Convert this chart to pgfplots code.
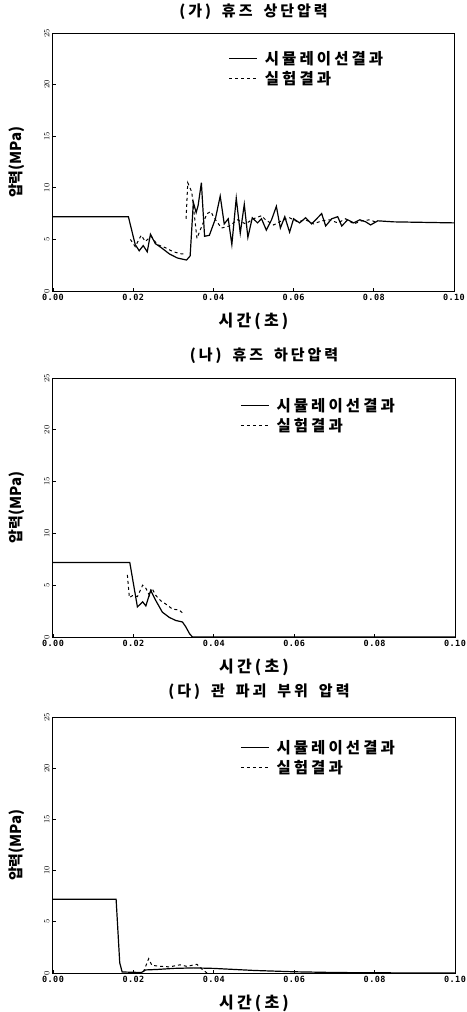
\documentclass[border=0pt]{standalone}
\usepackage{fontspec}
\usepackage{pgfplots}
\pgfplotsset{compat=1.18}
\newfontfamily\kr{Noto Sans CJK KR}[LetterSpace=20]
\newfontfamily\krn{Noto Sans CJK KR}
\newfontfamily\mono{DejaVu Sans Mono}[LetterSpace=5]
\pgfplotsset{panel/.style={
  scale only axis, xmin=0, xmax=0.1, ymin=0, ymax=25,
  xtick={0,0.02,0.04,0.06,0.08,0.1},
  xticklabels={0.00,0.02,0.04,0.06,0.08,0.10},
  ytick={0,5,10,15,20,25},
  tick align=inside, xtick pos=bottom, ytick pos=left,
  major tick length=3pt, tick style={line width=0.8pt, black},
  axis line style={line width=1pt},
  ticklabel style={font=\mono\bfseries\fontsize{8.5}{9}\selectfont},
  yticklabel style={rotate=90, anchor=south},
  xlabel={시간(초)}, ylabel={압력(MPa)},
  xlabel style={font=\kr\bfseries\fontsize{16}{18}\selectfont, at={(axis description cs:0.5,-0.118)}, anchor=center},
  ylabel style={font=\krn\bfseries\fontsize{15}{17}\selectfont, at={(axis description cs:-0.09,0.5)}, anchor=center},
  title style={font=\kr\bfseries\fontsize{15}{17}\selectfont, at={(axis description cs:0.5,1)}, anchor=center},
  legend style={draw=none, fill=none, font=\kr\bfseries\fontsize{15.5}{17}\selectfont, anchor=north west, row sep=1pt, column sep=5pt},
  legend cell align=left,
  legend image code/.code={\draw[#1] (0pt,0pt) -- (28pt,0pt);},
  unbounded coords=jump,
  sim/.style={black, line width=1.2pt},
  exps/.style={black, line width=1pt, dash pattern=on 3pt off 3pt},
}}
\begin{document}
\begin{tikzpicture}
\useasboundingbox (0,0) rectangle (466pt,-1012pt);
% (가)
\begin{axis}[panel, at={(53pt,-291pt)}, anchor=south west, width=401pt, height=258pt,
  title={(가)\hspace{0.3em} 휴즈\hspace{0.3em} 상단압력}, title style={yshift=15pt},
  legend style={at={(axis description cs:0.43,0.945)}}]
\addplot[sim] coordinates {(0,7.2) (0.0188,7.2) (0.0205,4.5) (0.0215,3.9) (0.0225,4.4) (0.0235,3.8) (0.0243,5.5) (0.0255,4.6) (0.027,4.2) (0.029,3.6) (0.031,3.2) (0.0333,3.0) (0.0342,3.4) (0.035,8.6) (0.0357,7.6) (0.0362,8.3) (0.037,10.5) (0.0378,5.3) (0.039,5.4) (0.0405,7.0) (0.0417,9.2) (0.0427,6.5) (0.0437,7.0) (0.0446,4.5) (0.0457,9.0) (0.0467,5.6) (0.0477,8.4) (0.0486,5.2) (0.0497,7.1) (0.051,6.6) (0.052,7.0) (0.0532,5.9) (0.0545,6.9) (0.0557,8.2) (0.0567,6.1) (0.0578,7.2) (0.059,5.7) (0.060,7.0) (0.0615,6.6) (0.063,7.1) (0.0645,6.5) (0.0655,6.9) (0.067,7.5) (0.068,6.3) (0.0695,7.0) (0.071,7.2) (0.072,6.3) (0.0735,6.9) (0.075,6.6) (0.0765,6.9) (0.078,6.7) (0.0792,6.4) (0.081,6.8) (0.085,6.7) (0.1,6.6)};
\addlegendentry{시뮬레이선결과}
\addplot[exps] coordinates {(0.0193,5.0) (0.0205,4.3) (0.022,5.4) (0.023,4.8) (0.0245,5.3) (0.026,4.5) (0.028,4.2) (0.030,3.8) (0.032,3.6) (0.0325,3.6) (0.033,nan) (0.0332,7.0) (0.0336,10.5) (0.0346,9.6) (0.0359,5.1) (0.0367,5.9) (0.0384,7.5) (0.0394,7.7) (0.040,7.2) (0.042,6.1) (0.044,6.3) (0.046,6.9) (0.048,6.5) (0.050,7.0) (0.052,7.3) (0.053,6.9) (0.055,6.4) (0.057,6.8) (0.059,7.1) (0.061,6.7) (0.063,6.9) (0.065,6.5) (0.067,6.8) (0.069,6.9) (0.071,6.6) (0.073,7.0) (0.075,6.5) (0.077,6.8) (0.079,6.9) (0.081,6.6)};
\addlegendentry{실험결과}
\end{axis}
% (나)
\begin{axis}[panel, at={(53pt,-637pt)}, anchor=south west, width=402pt, height=259pt,
  title={(나)\hspace{0.3em} 휴즈\hspace{0.3em} 하단압력}, title style={yshift=16pt, xshift=10pt},
  legend style={at={(axis description cs:0.458,0.937)}}]
\addplot[sim] coordinates {(0,7.2) (0.0191,7.2) (0.021,2.9) (0.0223,3.4) (0.0231,3.0) (0.0243,4.5) (0.0256,3.5) (0.0272,2.4) (0.0289,1.9) (0.0305,1.6) (0.0322,1.45) (0.033,1.0) (0.034,0.3) (0.0347,0) (0.1,0)};
\addlegendentry{시뮬레이선결과}
\addplot[exps] coordinates {(0.0185,6.0) (0.019,3.8) (0.0198,4.0) (0.021,3.9) (0.0223,5.0) (0.0231,4.7) (0.024,4.0) (0.0246,4.7) (0.0256,4.0) (0.0268,3.5) (0.028,3.2) (0.0297,2.7) (0.0314,2.6) (0.0323,2.3)};
\addlegendentry{실험결과}
\end{axis}
% (다)
\begin{axis}[panel, at={(53pt,-973pt)}, anchor=south west, width=402pt, height=256pt,
  title={(다)\hspace{0.3em} 관\hspace{0.3em} 파괴\hspace{0.3em} 부위\hspace{0.3em} 압력}, title style={yshift=19pt, xshift=5pt},
  legend style={at={(axis description cs:0.458,0.925)}}]
\addplot[sim] coordinates {(0,7.2) (0.0157,7.2) (0.0166,1.0) (0.0172,0.1) (0.022,0.05) (0.023,0.3) (0.026,0.35) (0.03,0.45) (0.035,0.5) (0.04,0.45) (0.045,0.35) (0.05,0.25) (0.06,0.12) (0.07,0.05) (0.08,0.02) (0.1,0)};
\addlegendentry{시뮬레이선결과}
\addplot[exps] coordinates {(0.0225,0.1) (0.0238,1.4) (0.0246,0.75) (0.0267,0.65) (0.029,0.6) (0.0316,0.8) (0.0333,0.65) (0.0358,0.85) (0.037,0.4) (0.0383,0.0)};
\addlegendentry{실험결과}
\end{axis}
\end{tikzpicture}
\end{document}
